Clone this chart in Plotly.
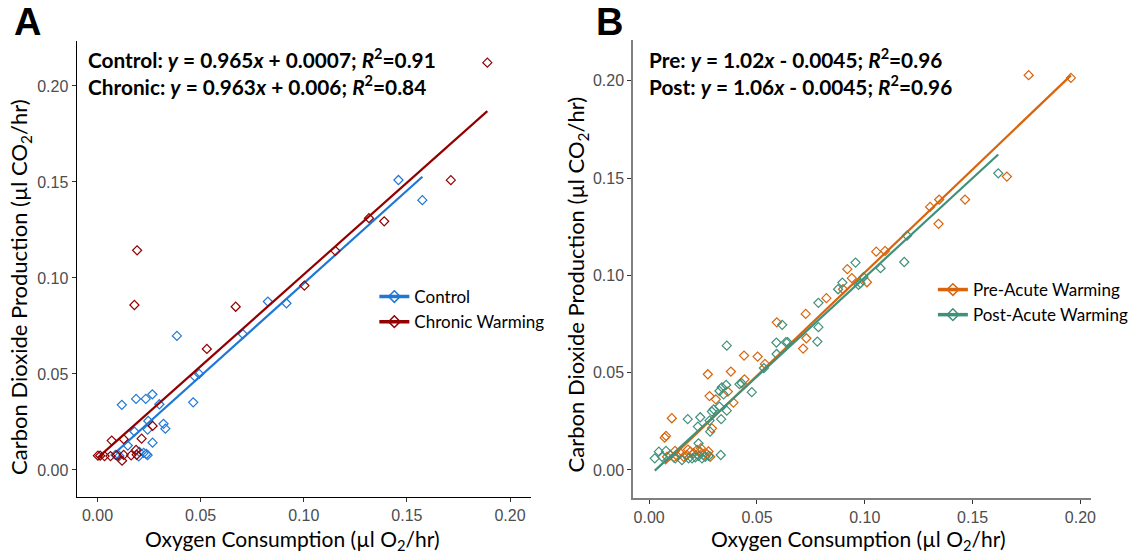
import plotly.graph_objects as go

# ---------------- Data ----------------
# Panel A
control_x = [0.1459, 0.1575, 0.0826, 0.0916, 0.0385, 0.0472, 0.0493, 0.0705, 0.0118, 0.0187,
             0.0234, 0.0266, 0.0300, 0.0464, 0.0246, 0.0320, 0.0329, 0.0179, 0.0243, 0.0147,
             0.0267, 0.0087, 0.0106, 0.0200, 0.0224, 0.0237, 0.0243, 0.0203]
control_y = [0.1510, 0.1405, 0.0877, 0.0868, 0.0698, 0.0486, 0.0500, 0.0707, 0.0339, 0.0370,
             0.0370, 0.0394, 0.0342, 0.0352, 0.0255, 0.0240, 0.0215, 0.0200, 0.0210, 0.0127,
             0.0142, 0.0078, 0.0073, 0.0071, 0.0089, 0.0083, 0.0077, 0.0094]
chronic_x = [0.1890, 0.1713, 0.1390, 0.1316, 0.1153, 0.0192, 0.0179, 0.0670, 0.1003, 0.0530,
             0.0267, 0.0069, 0.0127, 0.0214, 0.0187, 0.0002, 0.0013, 0.0034, 0.0063, 0.0093,
             0.0127, 0.0163, 0.0190, 0.0119]
chronic_y = [0.2121, 0.1509, 0.1295, 0.1311, 0.1141, 0.1144, 0.0859, 0.0850, 0.0960, 0.0630,
             0.0229, 0.0153, 0.0160, 0.0163, 0.0104, 0.0074, 0.0074, 0.0072, 0.0072, 0.0076,
             0.0078, 0.0076, 0.0079, 0.0048]
control_fit = [0.965, 0.0007]   # slope, intercept
chronic_fit = [0.956, 0.0062]

# Panel B
pre_x = [0.1760, 0.1956, 0.1659, 0.1465, 0.1345, 0.1303, 0.1342, 0.1053, 0.1094, 0.0919,
         0.0940, 0.0899, 0.1010, 0.0822, 0.0726, 0.0592, 0.0729, 0.0714, 0.0503, 0.0440,
         0.0537, 0.0272, 0.0379, 0.0442, 0.0365, 0.0280, 0.0309, 0.0391, 0.0291, 0.0105,
         0.0072, 0.0078, 0.0083, 0.0098, 0.0114, 0.0129, 0.0145, 0.0160, 0.0175, 0.0191,
         0.0206, 0.0222, 0.0237, 0.0252, 0.0268, 0.0283, 0.0120, 0.0180, 0.0240, 0.0275]
pre_y = [0.2029, 0.2015, 0.1508, 0.1390, 0.1390, 0.1352, 0.1265, 0.1122, 0.1126, 0.1032,
         0.0986, 0.0929, 0.0965, 0.0883, 0.0802, 0.0759, 0.0677, 0.0624, 0.0583, 0.0588,
         0.0545, 0.0492, 0.0506, 0.0466, 0.0403, 0.0380, 0.0363, 0.0346, 0.0214, 0.0266,
         0.0166, 0.0175, 0.0068, 0.0077, 0.0065, 0.0072, 0.0086, 0.0068, 0.0077, 0.0094,
         0.0086, 0.0103, 0.0094, 0.0077, 0.0082, 0.0068, 0.0098, 0.0105, 0.0112, 0.0095]
post_x = [0.1619, 0.1183, 0.1196, 0.1073, 0.0957, 0.0896, 0.0876, 0.0971, 0.0980, 0.0994,
          0.0785, 0.0617, 0.0785, 0.0590, 0.0634, 0.0642, 0.0780, 0.0591, 0.0532, 0.0360,
          0.0419, 0.0429, 0.0476, 0.0357, 0.0337, 0.0326, 0.0345, 0.0326, 0.0299, 0.0291,
          0.0360, 0.0334, 0.0237, 0.0280, 0.0283, 0.0226, 0.0229, 0.0332, 0.0179, 0.0026,
          0.0045, 0.0078, 0.0060, 0.0121, 0.0152, 0.0183, 0.0199, 0.0214, 0.0229, 0.0245,
          0.0260, 0.0276]
post_y = [0.1525, 0.1069, 0.1205, 0.1037, 0.1066, 0.0963, 0.0929, 0.0951, 0.0960, 0.0991,
          0.0859, 0.0746, 0.0734, 0.0655, 0.0657, 0.0657, 0.0660, 0.0596, 0.0524, 0.0639,
          0.0441, 0.0446, 0.0400, 0.0437, 0.0425, 0.0406, 0.0389, 0.0326, 0.0312, 0.0300,
          0.0305, 0.0261, 0.0271, 0.0254, 0.0197, 0.0223, 0.0137, 0.0077, 0.0261, 0.0060,
          0.0094, 0.0098, 0.0068, 0.0060, 0.0051, 0.0060, 0.0060, 0.0065, 0.0072, 0.0060,
          0.0068, 0.0072]
pre_fit = [1.06, -0.0045]
post_fit = [1.02, -0.0030]

tick_vals = [0.00, 0.05, 0.10, 0.15, 0.20]
tick_text = ["0.00", "0.05", "0.10", "0.15", "0.20"]

labels_A = ["Control", "Chronic Warming"]
labels_B = ["Pre-Acute Warming", "Post-Acute Warming"]
eq_A = ["<b>Control: <i>y</i> = 0.965<i>x</i> + 0.0007; <i>R</i><sup>2</sup>=0.91</b>",
        "<b>Chronic: <i>y</i> = 0.963<i>x</i> + 0.006; <i>R</i><sup>2</sup>=0.84</b>"]
eq_B = ["<b>Pre: <i>y</i> = 1.02<i>x</i> - 0.0045; <i>R</i><sup>2</sup>=0.96</b>",
        "<b>Post: <i>y</i> = 1.06<i>x</i> - 0.0045; <i>R</i><sup>2</sup>=0.96</b>"]

# ---------------- Style ----------------
W, H = 1139, 555
C_CTRL, C_CHRON = "#1f78d6", "#920000"
C_PRE, C_POST = "#d8650d", "#40907a"


def fit_line(xs, fit):
    x0, x1 = min(xs), max(xs)
    return [x0, x1], [fit[0] * x0 + fit[1], fit[0] * x1 + fit[1]]


fig = go.Figure()


def add_group(xs, ys, fit, color, name, xa, ya, legend):
    fig.add_trace(go.Scatter(x=xs, y=ys, mode="markers", xaxis=xa, yaxis=ya, showlegend=False,
                             marker=dict(symbol="diamond-open", size=7, color=color,
                                         line=dict(width=1.2, color=color))))
    lx, ly = fit_line(xs, fit)
    fig.add_trace(go.Scatter(x=lx, y=ly, mode="lines", xaxis=xa, yaxis=ya, showlegend=False,
                             line=dict(color=color, width=2.2)))
    fig.add_trace(go.Scatter(x=[None], y=[None], mode="lines+markers", name=name, xaxis=xa, yaxis=ya,
                             legend=legend,
                             line=dict(color=color, width=3.5),
                             marker=dict(symbol="diamond-open", size=9, color=color,
                                         line=dict(width=1.5, color=color))))


add_group(control_x, control_y, control_fit, C_CTRL, labels_A[0], "x", "y", "legend")
add_group(chronic_x, chronic_y, chronic_fit, C_CHRON, labels_A[1], "x", "y", "legend")
add_group(pre_x, pre_y, pre_fit, C_PRE, labels_B[0], "x2", "y2", "legend2")
add_group(post_x, post_y, post_fit, C_POST, labels_B[1], "x2", "y2", "legend2")

tickfont = dict(family="Liberation Sans, Arial", size=16, color="#4d4d4d")


def axis(domain, rng, linecolor, linewidth, anchor):
    return dict(domain=domain, range=rng, tickvals=tick_vals, ticktext=tick_text,
                showline=True, linecolor=linecolor, linewidth=linewidth, ticks="outside",
                ticklen=4, tickwidth=1, tickcolor="#333333", showgrid=False, zeroline=False,
                tickfont=tickfont, anchor=anchor)


fig.update_layout(
    width=W, height=H, margin=dict(l=0, r=0, t=0, b=0),
    paper_bgcolor="white", plot_bgcolor="white",
    xaxis=axis([77 / W, 533 / W], [-0.0101, 0.210], "black", 1.2, "y"),
    yaxis=axis([1 - 497 / H, 1 - 41 / H], [-0.0141, 0.2234], "black", 1.2, "x"),
    xaxis2=axis([636 / W, 1096 / W], [-0.0074, 0.205], "#7f7f7f", 1.8, "y2"),
    yaxis2=axis([1 - 498 / H, 1 - 40 / H], [-0.0144, 0.221], "#7f7f7f", 1.8, "x2"),
    legend=dict(x=376 / W, y=1 - 279 / H, xanchor="left", yanchor="top", bgcolor="rgba(0,0,0,0)",
                font=dict(family="Lato", size=17, color="black")),
    legend2=dict(x=937 / W, y=1 - 272 / H, xanchor="left", yanchor="top", bgcolor="rgba(0,0,0,0)",
                 font=dict(family="Lato", size=17, color="black")),
)

annos = []
for i, t in enumerate(eq_A):
    annos.append(dict(text=t, x=86 / W, y=1 - (58 + 27 * i) / H, xref="paper", yref="paper",
                      xanchor="left", yanchor="middle", showarrow=False,
                      font=dict(family="Lato", size=20.8, color="black")))
for i, t in enumerate(eq_B):
    annos.append(dict(text=t, x=650 / W, y=1 - (58 + 27 * i) / H, xref="paper", yref="paper",
                      xanchor="left", yanchor="middle", showarrow=False,
                      font=dict(family="Lato", size=20.8, color="black")))
for lab, px in [("A", 12), ("B", 597)]:
    annos.append(dict(text="<b>" + lab + "</b>", x=px / W, y=1 - 22 / H, xref="paper", yref="paper",
                      xanchor="left", yanchor="middle", showarrow=False,
                      font=dict(family="Liberation Sans, Arial", size=38, color="black")))
xt = "Oxygen Consumption (µl O<sub>2</sub>/hr)"
yt = "Carbon Dioxide Production (µl CO<sub>2</sub>/hr)"
for cx in [294, 862]:
    annos.append(dict(text=xt, x=cx / W, y=1 - 540 / H, xref="paper", yref="paper",
                      xanchor="center", yanchor="middle", showarrow=False,
                      font=dict(family="Lato", size=21, color="black")))
for cx, cy in [(20, 287), (580, 284)]:
    annos.append(dict(text=yt, x=cx / W, y=1 - cy / H, xref="paper", yref="paper", textangle=-90,
                      xanchor="center", yanchor="middle", showarrow=False,
                      font=dict(family="Lato", size=22, color="black")))
fig.update_layout(annotations=annos)

fig.write_html("out.html")
